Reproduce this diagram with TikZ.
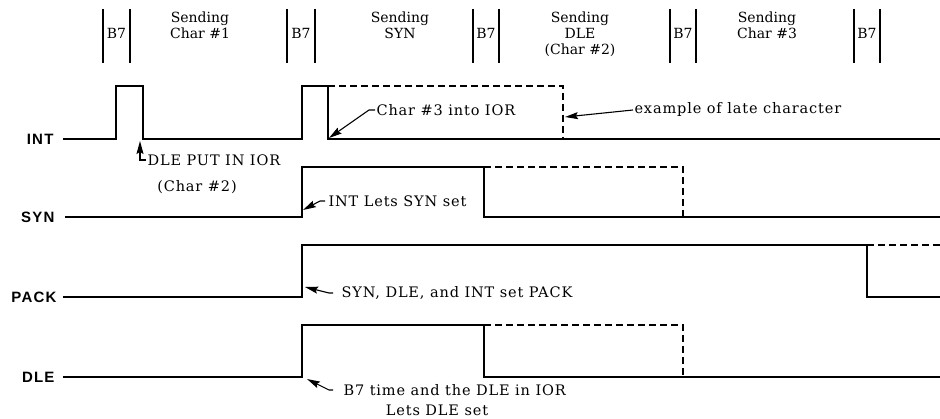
\documentclass[tikz,border=0pt]{standalone}
\usepackage{fontspec}
\setmainfont{DejaVu Serif}
\newfontfamily\notefont[LetterSpace=6]{DejaVu Serif}
\newfontfamily\sigfont[LetterSpace=8]{Liberation Sans}
\usetikzlibrary{arrows.meta}

\begin{document}
\begin{tikzpicture}[x=1pt, y=-1pt, line width=1.1pt, font=\fontsize{14}{16}\selectfont,
    txt/.style={inner sep=0pt},
    note/.style={inner sep=0pt, font=\notefont\fontsize{14.5}{16}\selectfont},
    sig/.style={inner sep=0pt, anchor=east, font=\sigfont\bfseries\fontsize{15}{16}\selectfont},
    latepath/.style={dash pattern=on 7pt off 4pt},
    arr/.style={-{Stealth[length=13pt, width=7pt, inset=2pt]}, line width=1.1pt}]
  \useasboundingbox (0,0) rectangle (940,419);
  % B7 slots and header
  \foreach \a/\b [count=\i] in {103/130, 287/315, 473/499, 670/696, 854/880}{
    \draw[line width=1.3pt] (\a,9) -- (\a,63) (\b,9) -- (\b,63);
    \node[txt] (bseven\i) at ({(\a+\b)/2},33) {B7};
  }
  \node[txt, align=center, anchor=north] (snd1) at (200,11) {Sending\\Char \#1};
  \node[txt, align=center, anchor=north] (snd2) at (400,11) {Sending\\SYN};
  \node[txt, align=center, anchor=north] (snd3) at (580,11) {Sending\\DLE\\(Char \#2)};
  \node[txt, align=center, anchor=north] (snd4) at (767,11) {Sending\\Char \#3};
  % signal names
  \node[sig] (int) at (54,139) {INT};
  \node[sig] (syn) at (55,217) {SYN};
  \node[sig] (pack) at (57,297) {PACK};
  \node[sig] (dle) at (55,377) {DLE};
  % waveforms
  \draw (63,139) -- (116,139) -- (116,86) -- (143,86) -- (143,139) -- (302,139) -- (302,86) -- (328,86) -- (328,139) -- (940,139);
  \draw[latepath] (328,86) -- (563,86) -- (563,139);
  \draw (65,217) -- (302,217) -- (302,167) -- (484,167) -- (484,217) -- (940,217);
  \draw[latepath] (484,167) -- (683,167) -- (683,217);
  \draw (63,297) -- (302,297) -- (302,245) -- (867,245) -- (867,297) -- (940,297);
  \draw[latepath] (867,245) -- (940,245);
  \draw (63,377) -- (302,377) -- (302,325) -- (484,325) -- (484,377) -- (940,377);
  \draw[latepath] (484,325) -- (683,325) -- (683,377);
  % notes
  \coordinate (dleput tip) at (140,141);
  \coordinate (char3 tip) at (329,138);
  \coordinate (late tip) at (565,117);
  \coordinate (synset tip) at (303,210);
  \coordinate (packset tip) at (305,287);
  \coordinate (b7note tip) at (307,379);
  \node[note, anchor=west] (dleput) at (147,160) {DLE PUT IN IOR};
  \node[note] (char2) at (197,187) {(Char \#2)};
  \node[note, anchor=west] (char3) at (376,110) {Char \#3 into IOR};
  \node[note, anchor=west] (late) at (634,110) {example of late character};
  \node[note, anchor=west] (synset) at (328,201) {INT Lets SYN set};
  \node[note, anchor=west] (packset) at (341,293) {SYN, DLE, and INT set PACK};
  \node[note, anchor=west] (b7note) at (343,390) {B7 time and the DLE in IOR};
  \node[note] (b7note2) at (437,410) {Lets DLE set};
  \draw[arr] ([xshift=-1pt]dleput.west) -| (dleput tip);
  \draw[arr] ([xshift=-1pt]char3.west) -- ++(-6,0) -- (char3 tip);
  \draw[arr] ([xshift=-1pt]late.west) -- (late tip);
  \draw[arr] ([xshift=-3pt]synset.west) -- ++(-5,0) -- (synset tip);
  \draw[arr] ([xshift=-8pt]packset.west) -- ++(-4,0) -- (packset tip);
  \draw[arr] ([xshift=-10pt]b7note.west) -- ++(-4,0) -- (b7note tip);
\end{tikzpicture}
\end{document}
